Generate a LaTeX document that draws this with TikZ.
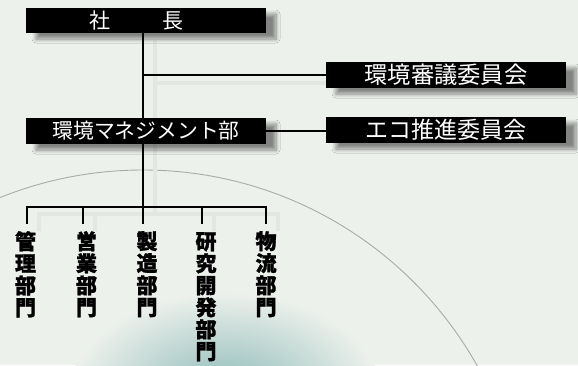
\documentclass[tikz,border=0pt]{standalone}
\usepackage{fontspec}
\setmainfont{Noto Sans CJK JP}
\newfontfamily\deptfont[BoldFeatures={FakeBold=1.3}]{Noto Sans CJK JP}
\usetikzlibrary{shadows.blur}
\definecolor{bgc}{HTML}{EDF1EC}
\definecolor{arcc}{HTML}{A8ABA8}
\definecolor{tealc}{HTML}{8DBAB8}
\definecolor{ghost}{HTML}{E2E7E2}
\tikzset{
  boxnode/.style={fill=black, text=white, minimum width=240pt, minimum height=26pt, inner sep=0pt,
    font=\fontsize{21pt}{21pt}\selectfont,
    blur shadow={shadow xshift=10pt, shadow yshift=-6pt, shadow blur radius=4pt, shadow blur steps=8, shadow opacity=45}},
  conn/.style={line width=2.3pt, black},
  ghostline/.style={line width=4pt, ghost},
  dept/.style={align=center, inner sep=0pt, anchor=north, text=black,
    font=\deptfont\fontsize{21pt}{22pt}\selectfont\bfseries}
}
\begin{document}
\begin{tikzpicture}[x=1pt,y=-1pt]
\useasboundingbox (0,0) rectangle (578,365);
\fill[bgc] (0,0) rectangle (578,365);
\begin{scope}
  \clip (0,0) rectangle (578,365);
  \shade[inner color=tealc, outer color=bgc] (225,392) ellipse [x radius=155, y radius=100];
  \draw[arcc, line width=0.9pt] (143,553) circle (383);
\end{scope}

% coordinates
\coordinate (t) at (143,0);
\coordinate (bus) at (0,207);
\coordinate (d1) at (26.7,224);
\coordinate (d2) at (83.3,224);
\coordinate (d3) at (142.7,224);
\coordinate (d4) at (201.7,224);
\coordinate (d5) at (266,224);

% ghost line shadows
\begin{scope}[xshift=12pt, yshift=-7pt]
  \draw[ghostline] (143,33) -- (143,207);
  \draw[ghostline] (143,76) -- (326,76);
  \draw[ghostline] (26.7,224) -- (26.7,207) -- (266,207) -- (266,224);
  \draw[ghostline] (83.3,207) -- (83.3,224);
  \draw[ghostline] (201.7,207) -- (201.7,224);
\end{scope}

% boxes
\node[boxnode, minimum height=25pt] (pres) at (146,20.5) {};
\node[text=white, inner sep=0pt, font=\fontsize{21pt}{21pt}\selectfont] (prestxt) at (136.5,20.5) {社\hspace{52pt}長};
\node[boxnode, font=\fontsize{23.3pt}{23.3pt}\selectfont] (shingi) at (446,75) {環境審議委員会};
\node[boxnode, font=\fontsize{20.8pt}{20.8pt}\selectfont] (mgmt) at (146,131) {環境マネジメント部};
\node[boxnode, font=\fontsize{23pt}{23pt}\selectfont] (eco) at (446,130) {エコ推進委員会};

% connectors
\draw[conn] (pres.south -| t) -- (mgmt.north -| t);
\draw[conn] (mgmt.south -| t) -- (bus -| t);
\draw[conn] (t |- shingi.west) -- (shingi.west);
\draw[conn] (mgmt.east) -- (mgmt.east -| eco.west);
\draw[conn] (d1) -- (bus -| d1) -- (bus -| d5) -- (d5);
\draw[conn] (bus -| d2) -- (d2);
\draw[conn] (bus -| d3) -- (d3);
\draw[conn] (bus -| d4) -- (d4);

% departments
\node[dept] (k1) at (25.5,231) {管\\理\\部\\門};
\node[dept] (k2) at (86.5,231) {営\\業\\部\\門};
\node[dept] (k3) at (147,231) {製\\造\\部\\門};
\node[dept] (k4) at (206,232) {研\\究\\開\\発\\部\\門};
\node[dept] (k5) at (266,231) {物\\流\\部\\門};
\end{tikzpicture}
\end{document}
